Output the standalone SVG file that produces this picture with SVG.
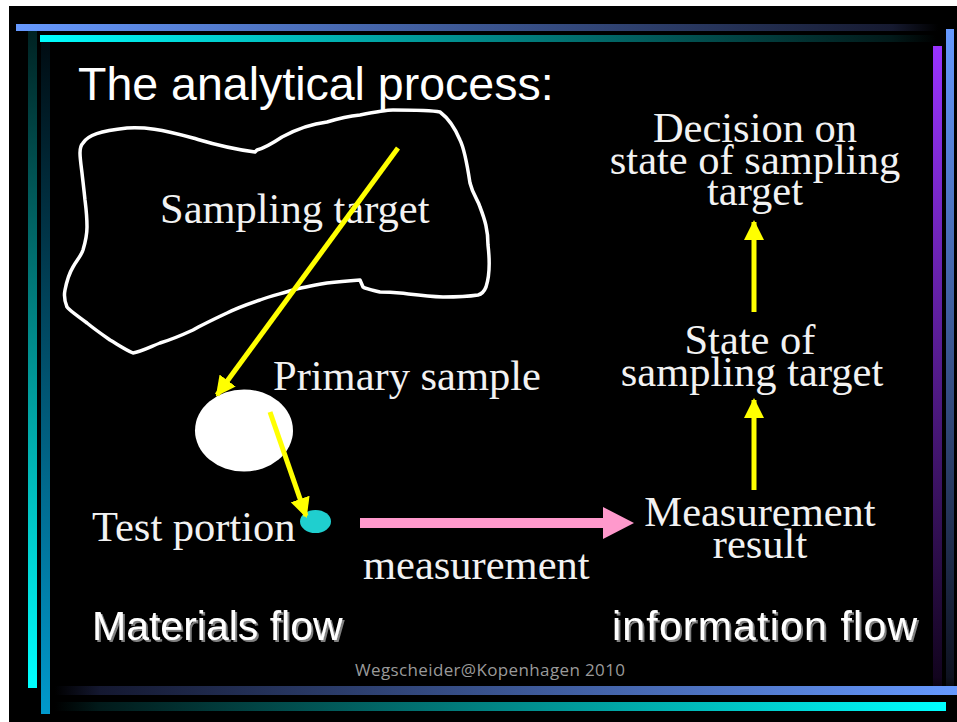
<svg xmlns="http://www.w3.org/2000/svg" width="957" height="722" viewBox="0 0 957 722">
<defs>
<linearGradient id="gTopBlue" x1="0" y1="0" x2="1" y2="0"><stop offset="0" stop-color="#6699ff"/><stop offset="0.95" stop-color="#161a30"/><stop offset="1" stop-color="#000"/></linearGradient>
<linearGradient id="gTopCyan" x1="0" y1="0" x2="1" y2="0"><stop offset="0" stop-color="#00ffff"/><stop offset="0.95" stop-color="#021a1a"/><stop offset="1" stop-color="#000"/></linearGradient>
<linearGradient id="gLeft1" x1="0" y1="0" x2="0" y2="1"><stop offset="0" stop-color="#002020"/><stop offset="1" stop-color="#00ffff"/></linearGradient>
<linearGradient id="gLeft2" x1="0" y1="0" x2="0" y2="1"><stop offset="0" stop-color="#000c12"/><stop offset="1" stop-color="#0099cc"/></linearGradient>
<linearGradient id="gRightP" x1="0" y1="0" x2="0" y2="1"><stop offset="0" stop-color="#9933ff"/><stop offset="0.97" stop-color="#12041e"/><stop offset="1" stop-color="#000"/></linearGradient>
<linearGradient id="gRightB" x1="0" y1="0" x2="0" y2="1"><stop offset="0" stop-color="#6699ff"/><stop offset="0.97" stop-color="#0e1220"/><stop offset="1" stop-color="#000"/></linearGradient>
<linearGradient id="gBotBlue" x1="0" y1="0" x2="1" y2="0"><stop offset="0" stop-color="#000"/><stop offset="0.05" stop-color="#141830"/><stop offset="1" stop-color="#6699ff"/></linearGradient>
<linearGradient id="gBotCyan" x1="0" y1="0" x2="1" y2="0"><stop offset="0" stop-color="#000"/><stop offset="0.05" stop-color="#021a1a"/><stop offset="1" stop-color="#00ffff"/></linearGradient>
<filter id="shadow" x="-5%" y="-20%" width="110%" height="140%"><feDropShadow dx="2" dy="2" stdDeviation="0.6" flood-color="#808080" flood-opacity="1"/></filter>
<marker id="yHead" viewBox="0 0 10 10" refX="9" refY="5" markerWidth="4" markerHeight="4" orient="auto" markerUnits="strokeWidth"><path d="M0,0 L10,5 L0,10 Z" fill="#ffff00"/></marker>
</defs>
<style>
.serif{font-family:"Liberation Serif","Times New Roman",serif;font-size:42.5px;fill:#f2f2f2}
.mid{text-anchor:middle}
.sans{font-family:"Liberation Sans",Arial,sans-serif}
.flow{font-size:41px;fill:#ffffff;filter:url(#shadow)}
.yl{stroke:#ffff00;stroke-width:5;fill:none}
</style>
<rect x="0" y="0" width="957" height="722" fill="#ffffff"/>
<rect x="9" y="6" width="948" height="716" fill="#000000"/>
<g id="frame">
<rect x="28" y="24" width="9" height="664" fill="url(#gLeft1)"/>
<rect x="41" y="42" width="9" height="672" fill="url(#gLeft2)"/>
<rect x="16" y="24" width="922" height="7" fill="url(#gTopBlue)"/>
<rect x="40" y="35" width="896" height="7" fill="url(#gTopCyan)"/>
<rect x="933" y="46" width="9" height="651" fill="url(#gRightP)"/>
<rect x="946" y="29" width="8" height="668" fill="url(#gRightB)"/>
<rect x="55" y="686" width="902" height="9" fill="url(#gBotBlue)"/>
<rect x="55" y="702" width="891" height="9" fill="url(#gBotCyan)"/>
</g>
<text class="sans" x="78" y="100" font-size="46.5" fill="#ffffff">The analytical process:</text>
<g id="target">
<path d="M83,143 C88,135 100,131 127,128 C145,127 160,129 193,138 C210,143 225,148 255,152 L257,150 C265,148 273,143 282,137 C295,130 310,124 327,122 C340,118 350,116 360,115 C375,112 385,110 393,110 C410,110 430,110 440,112 C448,118 455,128 460,140 C465,150 468,170 470,183 C473,195 478,200 480,207 C485,220 488,230 488,245 C490,262 489,278 486,287 C484,292 482,294 478,295 C465,297 455,297 443,297 C425,296 410,294 400,293 C390,292 385,292 380,292 C372,290 366,289 363,287 L360,280 C345,281 335,282 327,283 C310,286 300,288 293,290 C280,294 270,296 260,300 C245,305 235,309 227,313 C210,321 200,326 193,330 C180,336 170,340 160,343 C150,347 140,352 133,353 C124,349 117,344 110,340 C100,333 93,328 87,323 C78,316 70,311 67,307 C64,300 64,295 65,290 C67,280 70,272 73,267 C77,260 81,256 83,250 C86,240 87,235 87,227 C87,215 86,208 85,200 C84,190 83,182 82,173 C81,165 80,158 80,153 C80,148 81,145 83,143 Z" fill="none" stroke="#ffffff" stroke-width="3.5" stroke-linejoin="round"/>
<text class="serif" x="160" y="223">Sampling target</text>
</g>
<g id="primary">
<ellipse cx="244" cy="430.5" rx="49" ry="41" fill="#ffffff"/>
<text class="serif" x="273" y="390">Primary sample</text>
</g>
<g id="test">
<ellipse cx="315.5" cy="521.5" rx="15.5" ry="11.5" fill="#1fcfcf"/>
<text class="serif" x="92" y="541">Test portion</text>
</g>
<g id="decision">
<text class="serif mid" x="755" y="142"><tspan x="755" y="142">Decision on</tspan><tspan x="755" y="174">state of sampling</tspan><tspan x="755" y="205">target</tspan></text>
</g>
<g id="state">
<text class="serif mid" x="750" y="354"><tspan x="750" y="354">State of</tspan><tspan x="752" y="386">sampling target</tspan></text>
</g>
<g id="result">
<text class="serif mid" x="760" y="526"><tspan x="760" y="526">Measurement</tspan><tspan x="760" y="558">result</tspan></text>
</g>
<g id="connectors">
<line x1="398" y1="148" x2="217" y2="395" class="yl" marker-end="url(#yHead)"/>
<line x1="270" y1="412" x2="306" y2="516" class="yl" stroke-width="6" marker-end="url(#yHead)"/>
<line x1="754" y1="490" x2="754" y2="400" class="yl" marker-end="url(#yHead)"/>
<line x1="754" y1="312" x2="754" y2="222" class="yl" marker-end="url(#yHead)"/>
<line x1="360" y1="523" x2="606" y2="523" stroke="#ff99cc" stroke-width="10"/>
<path d="M603,507 L634,523 L603,539 Z" fill="#ff99cc"/>
<text class="serif" x="363" y="579">measurement</text>
</g>
<g id="labels">
<text class="sans flow" x="92" y="640">Materials flow</text>
<text class="sans flow" x="612" y="640" textLength="305">information flow</text>
<text x="490" y="676" text-anchor="middle" font-family="'Open Sans','Noto Sans',sans-serif" font-size="17" fill="#9a9a9a" textLength="270">Wegscheider@Kopenhagen 2010</text>
</g>
</svg>
